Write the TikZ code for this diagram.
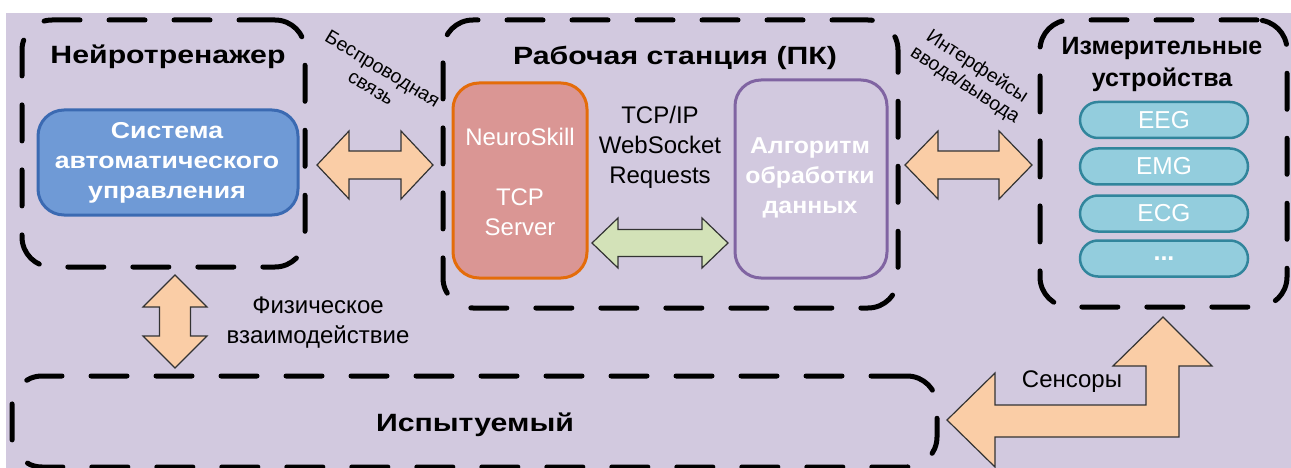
\documentclass[tikz,border=0pt]{standalone}
\usepackage{fontspec}
\setmainfont{Liberation Sans}
\newfontfamily\widefont{Liberation Sans}[FakeStretch=1.21]
\newfontfamily\midwidefont{Liberation Sans}[FakeStretch=1.16]
\newfontfamily\semiwidefont{Liberation Sans}[FakeStretch=1.08]
\definecolor{bgc}{HTML}{D2C9DF}
\definecolor{bluefill}{HTML}{6F9AD6}
\definecolor{blueline}{HTML}{3B6AB2}
\definecolor{redfill}{HTML}{DA9694}
\definecolor{orangeline}{HTML}{E46C0A}
\definecolor{purpleline}{HTML}{8064A2}
\definecolor{pillfill}{HTML}{93CDDD}
\definecolor{pillline}{HTML}{31859C}
\definecolor{peach}{HTML}{FACDA6}
\definecolor{greenfill}{HTML}{D3E2B8}
\definecolor{arrline}{HTML}{333333}
\begin{document}
\begin{tikzpicture}[x=1pt,y=-1pt,
  grp/.style={draw=black, line width=5pt, dash pattern=on 36pt off 29pt, line cap=round, rounded corners=30pt, inner sep=0pt},
  title/.style={font=\widefont\bfseries\fontsize{25}{32}\selectfont, align=center},
  titlen/.style={font=\bfseries\fontsize{25}{32}\selectfont, align=center},
  inner/.style={inner sep=0pt, line width=3pt, rounded corners=26pt},
  wtext/.style={text=white, align=center},
  rtxt/.style={font=\fontsize{24}{30}\selectfont, align=center},
  rot/.style={font=\fontsize{19.5}{22}\selectfont, align=center},
  pill/.style={draw=pillline, fill=pillfill, line width=2.5pt, rounded corners=18pt, minimum width=168pt, minimum height=36pt, inner sep=0pt, text=white, font=\fontsize{24.5}{28}\selectfont},
  fat/.style={draw=arrline, line width=1.2pt, line join=miter}
]
\fill[white] (0,0) rectangle (1291,468);
\useasboundingbox (0,0) rectangle (1291,468);
\fill[bgc] (6,13) rectangle (1291,468);

% group boxes
\node[grp, minimum width=283pt, minimum height=247pt] (neuro) at (163.5,143.5) {};
\node[grp, minimum width=455pt, minimum height=288pt] (ws) at (670.5,164) {};
\node[grp, minimum width=247pt, minimum height=287pt] (meas) at (1163.5,163.5) {};
\node[grp, minimum width=925pt, minimum height=91pt] (subj) at (474.5,421.5) {};

% titles
\node[title] (tneuro) at (168,57) {Нейротренажер};
\node[title] (tws) at (675,58) {Рабочая станция (ПК)};
\node[titlen] (tmeas1) at (1162,48) {Измерительные};
\node[titlen] (tmeas2) at (1162,80) {устройства};
\node[title] (tsubj) at (475,425) {Испытуемый};

% inner boxes
\node[inner, draw=blueline, fill=bluefill, minimum width=260pt, minimum height=105pt] (sau) at (168,162.5) {};
\node[wtext, font=\midwidefont\bfseries\fontsize{23}{30}\selectfont] (tsau) at (167,163) {Система\\автоматического\\управления};

\node[inner, draw=orangeline, fill=redfill, minimum width=134pt, minimum height=195pt] (ns) at (520,180.5) {};
\node[wtext, rtxt] (tns1) at (520,137) {NeuroSkill};
\node[wtext, rtxt] (tns2) at (520,212) {TCP\\Server};

\node[inner, draw=purpleline, minimum width=152pt, minimum height=198pt] (algo) at (811,179) {};
\node[wtext, font=\semiwidefont\bfseries\fontsize{23}{30}\selectfont] (talgo) at (810,178) {Алгоритм\\обработки\\данных};

\node[rtxt] (tcp) at (660,147) {TCP/IP\\WebSocket\\Requests};

% pills
\node[pill] (eeg) at (1164,120) {EEG};
\node[pill] (emg) at (1164,166.5) {EMG};
\node[pill] (ecg) at (1164,213.5) {ECG};
\node[pill, font=\bfseries\fontsize{25}{28}\selectfont] (dots) at (1164,258.5) {...};

% fat arrows
\draw[fat, fill=peach] (317,165) -- (349,131) -- (349,151) -- (401,151) -- (401,131) -- (433,165) -- (401,199) -- (401,179) -- (349,179) -- (349,199) -- cycle;
\draw[fat, fill=peach] (905,165) -- (938,131) -- (938,151) -- (999,151) -- (999,131) -- (1032,165) -- (999,199) -- (999,179) -- (938,179) -- (938,199) -- cycle;
\draw[fat, fill=greenfill] (592,243) -- (618,218) -- (618,229.5) -- (702,229.5) -- (702,218) -- (728,243) -- (702,268) -- (702,256.5) -- (618,256.5) -- (618,268) -- cycle;
\draw[fat, fill=peach] (175,275) -- (207,307) -- (190.5,307) -- (190.5,336) -- (207,336) -- (175,368) -- (143,336) -- (159.5,336) -- (159.5,307) -- (143,307) -- cycle;
\draw[fat, fill=peach] (947,420) -- (995,373) -- (995,405) -- (1146,405) -- (1146,366) -- (1113,366) -- (1163,317) -- (1212,366) -- (1179,366) -- (1179,437) -- (995,437) -- (995,467) -- cycle;

% labels
\node[rot, rotate=-31] (lwl) at (377,78) {Беспроводная\\связь};
\node[rot, rotate=-33] (lio) at (971,76) {Интерфейсы\\ввода/вывода};
\node[rtxt] (lphys) at (318,323) {Физическое\\взаимодействие};
\node[rtxt] (lsens) at (1072,382) {Сенсоры};
\end{tikzpicture}
\end{document}
